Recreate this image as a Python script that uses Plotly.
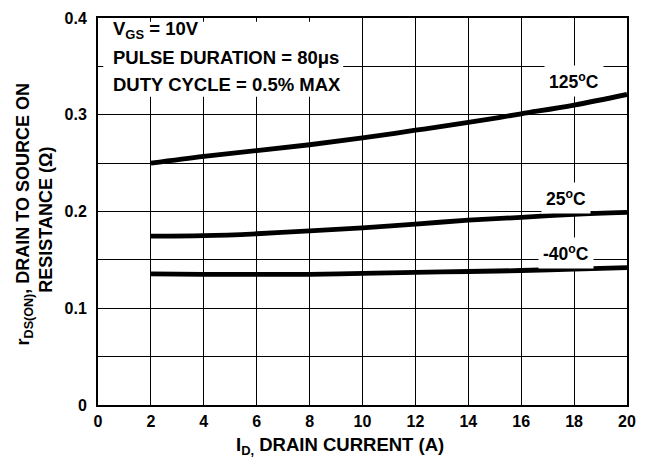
import plotly.graph_objects as go

# ---- data ----
drain_current = [2, 4, 6, 8, 10, 12, 14, 16, 18, 20]
r_125 = [0.250, 0.257, 0.263, 0.269, 0.276, 0.284, 0.292, 0.301, 0.310, 0.321]
r_25 = [0.1745, 0.175, 0.177, 0.180, 0.183, 0.187, 0.191, 0.194, 0.197, 0.199]
r_m40 = [0.1355, 0.135, 0.135, 0.135, 0.136, 0.137, 0.138, 0.139, 0.1405, 0.142]

curve_labels = ["125<sup>o</sup>C", "25<sup>o</sup>C", "-40<sup>o</sup>C"]
curve_label_x = [18, 17.7, 17.7]
curve_label_y = [0.335, 0.2135, 0.157]

x_ticks = [0, 2, 4, 6, 8, 10, 12, 14, 16, 18, 20]
y_ticks = [0, 0.1, 0.2, 0.3, 0.4]
y_tick_text = ["0", "0.1", "0.2", "0.3", "0.4"]

FONT = "Liberation Sans, Arial, sans-serif"

fig = go.Figure()
for ys in (r_125, r_25, r_m40):
    fig.add_trace(go.Scatter(
        x=drain_current, y=ys, mode="lines",
        line=dict(color="black", width=4.8, shape="spline", smoothing=1.0),
        showlegend=False, hoverinfo="skip"))

annotations = []
for t, xx, yy in zip(curve_labels, curve_label_x, curve_label_y):
    annotations.append(dict(
        x=xx, y=yy, xref="x", yref="y", text=t, showarrow=False,
        font=dict(family=FONT, size=17.5, color="black", weight="bold"),
        bgcolor="white", borderpad=4, xanchor="center", yanchor="middle"))

cond_lines = ["V<sub>GS</sub> = 10V", "PULSE DURATION = 80\u03bcs", "DUTY CYCLE = 0.5% MAX"]
cond_y = [0.388, 0.359, 0.331]
for t, yy in zip(cond_lines, cond_y):
    annotations.append(dict(
        x=0.5, y=yy, xref="x", yref="y", text=t, showarrow=False,
        font=dict(family=FONT, size=18.5, color="black", weight="bold"),
        xanchor="left", yanchor="middle"))

# axis titles (y title as two rotated lines)
ytitle_lines = ["r<sub>DS(ON)</sub>, DRAIN TO SOURCE ON", "RESISTANCE (\u03a9)"]
ytitle_x = [-0.139, -0.099]
ytitle_y = [0.4935, 0.478]
for t, xx, yy in zip(ytitle_lines, ytitle_x, ytitle_y):
    annotations.append(dict(
        x=xx, y=yy, xref="paper", yref="paper", text=t,
        showarrow=False, textangle=-90,
        font=dict(family=FONT, size=18, color="black", weight="bold"),
        xanchor="center", yanchor="middle"))
annotations.append(dict(
    x=0.457, y=-0.107, xref="paper", yref="paper",
    text="I<sub>D,</sub> DRAIN CURRENT (A)",
    showarrow=False,
    font=dict(family=FONT, size=18.5, color="black", weight="bold"),
    xanchor="center", yanchor="middle"))

fig.update_layout(
    width=646, height=452,
    margin=dict(l=90, r=27, t=10, b=55, autoexpand=False),
    paper_bgcolor="white", plot_bgcolor="white",
    font=dict(family=FONT, color="black"),
    annotations=annotations,
    shapes=[dict(type="rect", xref="x", yref="y", x0=0.2, x1=9.27, y0=0.3185, y1=0.396,
                 fillcolor="white", line=dict(width=0), layer="between")],
    xaxis=dict(
        range=[0, 20], tickvals=x_ticks, ticktext=[str(v) for v in x_ticks],
        automargin=False,
        showgrid=True, gridcolor="black", gridwidth=1.4, zeroline=False,
        showline=True, linecolor="black", linewidth=2, mirror=True,
        ticks="", ticklabelstandoff=1,
        tickfont=dict(family=FONT, size=16, color="black", weight="bold")),
    yaxis=dict(
        range=[0, 0.4], tickvals=y_ticks, ticktext=y_tick_text,
        automargin=False,
        showgrid=True, gridcolor="black", gridwidth=1.4, zeroline=False,
        minor=dict(dtick=0.05, showgrid=True, gridcolor="black", gridwidth=1.4),
        showline=True, linecolor="black", linewidth=2, mirror=True,
        ticks="", ticklabelstandoff=6,
        tickfont=dict(family=FONT, size=16, color="black", weight="bold")),
)

fig.write_html("out.html")
